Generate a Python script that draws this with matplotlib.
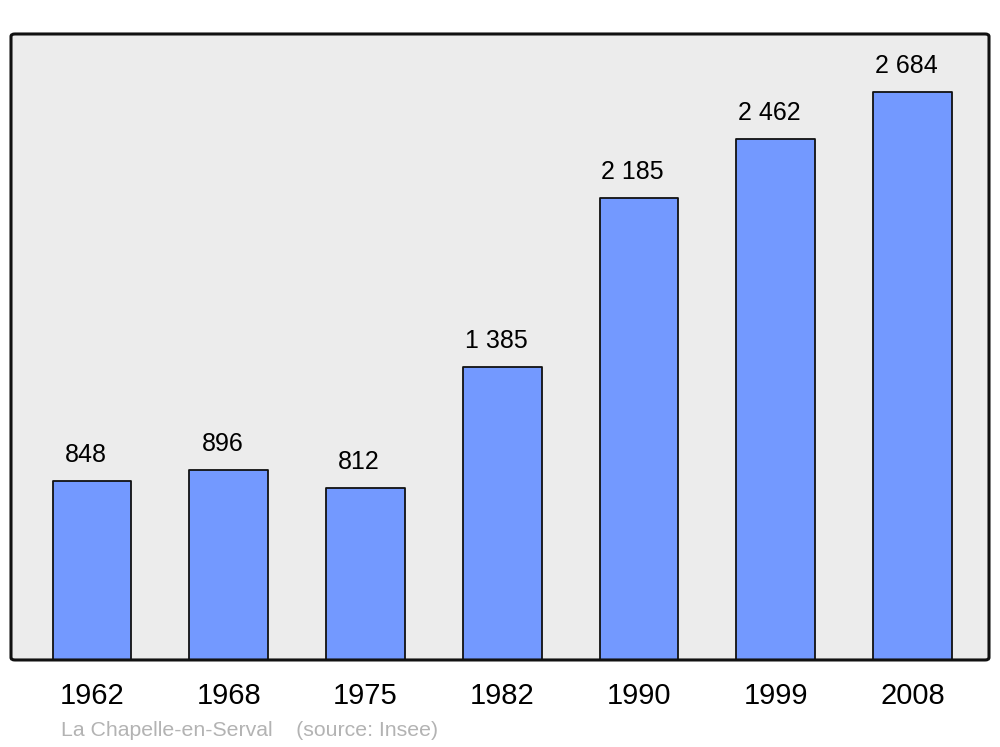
import matplotlib.pyplot as plt
from matplotlib.patches import FancyBboxPatch

years = ["1962", "1968", "1975", "1982", "1990", "1999", "2008"]
population = [848, 896, 812, 1385, 2185, 2462, 2684]
value_labels = ["848", "896", "812", "1 385", "2 185", "2 462", "2 684"]

plt.rcParams["font.family"] = ["Liberation Sans", "DejaVu Sans"]

fig = plt.figure(figsize=(10, 7.47), dpi=100)
ax = fig.add_axes([0.011, 0.1165, 0.978, 0.838])
ax.set_facecolor("none")
for s in ax.spines.values():
    s.set_visible(False)

# rounded background and frame
bg = FancyBboxPatch((0, 0), 1, 1, boxstyle="round,pad=0,rounding_size=0.004",
                    transform=ax.transAxes, facecolor="#ececec", edgecolor="none",
                    zorder=0, clip_on=False)
ax.add_patch(bg)
frame = FancyBboxPatch((0, 0), 1, 1, boxstyle="round,pad=0,rounding_size=0.004",
                       transform=ax.transAxes, facecolor="none", edgecolor="#111111",
                       linewidth=2.2, zorder=5, clip_on=False)
ax.add_patch(frame)

x = list(range(len(years)))
bars = ax.bar(x, population, width=0.575, color="#7399ff", edgecolor="#111111",
              linewidth=1.3, zorder=2)
for b in bars:
    b.set_joinstyle("round")

for xi, v, lab in zip(x, population, value_labels):
    ax.annotate(lab, (xi, v), xytext=(-4.5, 10), textcoords="offset points",
                ha="center", va="bottom", fontsize=18, color="black")

ax.set_xlim(-0.592, 6.56)
ax.set_ylim(0, 2958)
ax.set_yticks([])
ax.set_xticks(x)
ax.set_xticklabels(years, fontsize=21)
ax.tick_params(axis="x", length=0, pad=16)

fig.text(0.061, 1 - 736 / 747, "La Chapelle-en-Serval    (source: Insee)",
         fontsize=15.3, color="#b3b3b3", va="baseline", ha="left")

fig.savefig("out.png", dpi=100)
